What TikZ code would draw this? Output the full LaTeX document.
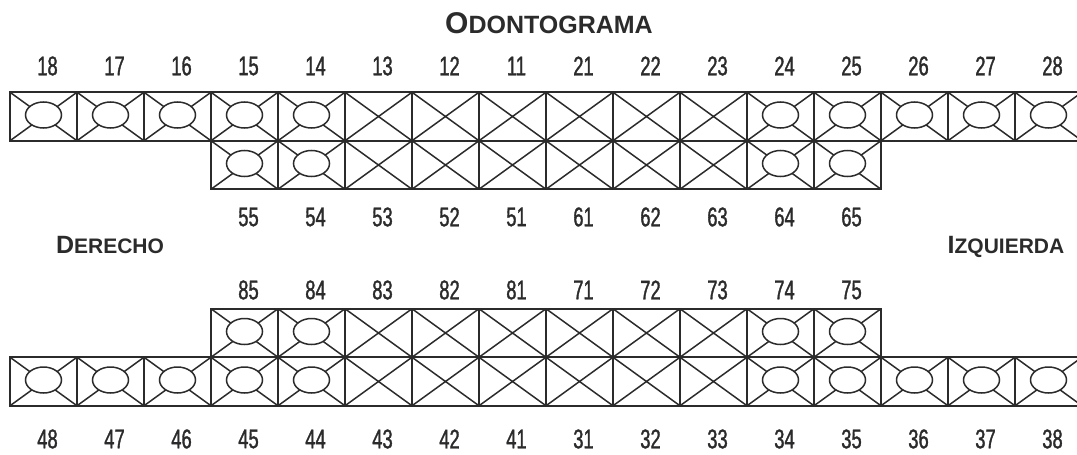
\documentclass[tikz,border=0pt]{standalone}
\usepackage{fontspec}
\setmainfont{Liberation Sans}
\newfontfamily\numfont[FakeStretch=0.68, FakeBold=1.2]{Liberation Sans}
\definecolor{lc}{HTML}{2B2B2B}
\tikzset{
  cell/.style={draw=lc, line width=1.8pt, minimum width=67pt, minimum height=48.5pt, inner sep=0pt, outer sep=0pt},
  diag/.style={draw=lc, line width=1.5pt},
  toothx/.style={cell, path picture={
    \draw[diag] (path picture bounding box.north west) -- (path picture bounding box.south east)
                (path picture bounding box.north east) -- (path picture bounding box.south west);}},
  toothov/.style={cell, path picture={
    \draw[diag] (path picture bounding box.north west) -- (path picture bounding box.south east)
                (path picture bounding box.north east) -- (path picture bounding box.south west);
    \filldraw[fill=white, draw=lc, line width=1.5pt] ([yshift=1.5pt]path picture bounding box.center) ellipse [x radius=18pt, y radius=13pt];}},
  num/.style={font=\numfont\fontsize{27}{27}\selectfont, text=lc, inner sep=0pt},
  ttl/.style={text=lc, inner sep=0pt, anchor=base},
}
\begin{document}
\begin{tikzpicture}[x=1pt, y=-1pt]
\useasboundingbox (0,0) rectangle (1077,455);
% title and side labels
\node[ttl] (title) at (549,33) {\bfseries\fontsize{30}{30}\selectfont O\fontsize{25}{25}\selectfont DONTOGRAMA};
\node[ttl] (der) at (110,253) {\bfseries\fontsize{25}{25}\selectfont D\fontsize{21}{21}\selectfont ERECHO};
\node[ttl] (izq) at (1006,253) {\bfseries\fontsize{25}{25}\selectfont I\fontsize{21}{21}\selectfont ZQUIERDA};
% upper arch, permanent teeth
\foreach \lab/\st [count=\i from 0] in {18/toothov,17/toothov,16/toothov,15/toothov,14/toothov,13/toothx,12/toothx,11/toothx,21/toothx,22/toothx,23/toothx,24/toothov,25/toothov,26/toothov,27/toothov,28/toothov}{
  \pgfmathsetmacro\cx{43.5+67*\i}
  \pgfmathsetmacro\lx{47.5+67*\i}
  \node[\st] (p\lab) at (\cx,116.5) {};
  \node[num] (lp\lab) at (\lx,66) {\lab};
}
% upper arch, deciduous teeth
\foreach \lab/\st [count=\i from 3] in {55/toothov,54/toothov,53/toothx,52/toothx,51/toothx,61/toothx,62/toothx,63/toothx,64/toothov,65/toothov}{
  \pgfmathsetmacro\cx{43.5+67*\i}
  \pgfmathsetmacro\lx{47.5+67*\i}
  \node[\st] (d\lab) at (\cx,165) {};
  \node[num] (ld\lab) at (\lx,217) {\lab};
}
% lower arch, deciduous teeth
\foreach \lab/\st [count=\i from 3] in {85/toothov,84/toothov,83/toothx,82/toothx,81/toothx,71/toothx,72/toothx,73/toothx,74/toothov,75/toothov}{
  \pgfmathsetmacro\cx{43.5+67*\i}
  \pgfmathsetmacro\lx{47.5+67*\i}
  \node[\st] (d\lab) at (\cx,333) {};
  \node[num] (ld\lab) at (\lx,290) {\lab};
}
% lower arch, permanent teeth
\foreach \lab/\st [count=\i from 0] in {48/toothov,47/toothov,46/toothov,45/toothov,44/toothov,43/toothx,42/toothx,41/toothx,31/toothx,32/toothx,33/toothx,34/toothov,35/toothov,36/toothov,37/toothov,38/toothov}{
  \pgfmathsetmacro\cx{43.5+67*\i}
  \pgfmathsetmacro\lx{47.5+67*\i}
  \node[\st] (p\lab) at (\cx,381.5) {};
  \node[num] (lp\lab) at (\lx,439) {\lab};
}
\end{tikzpicture}
\end{document}
